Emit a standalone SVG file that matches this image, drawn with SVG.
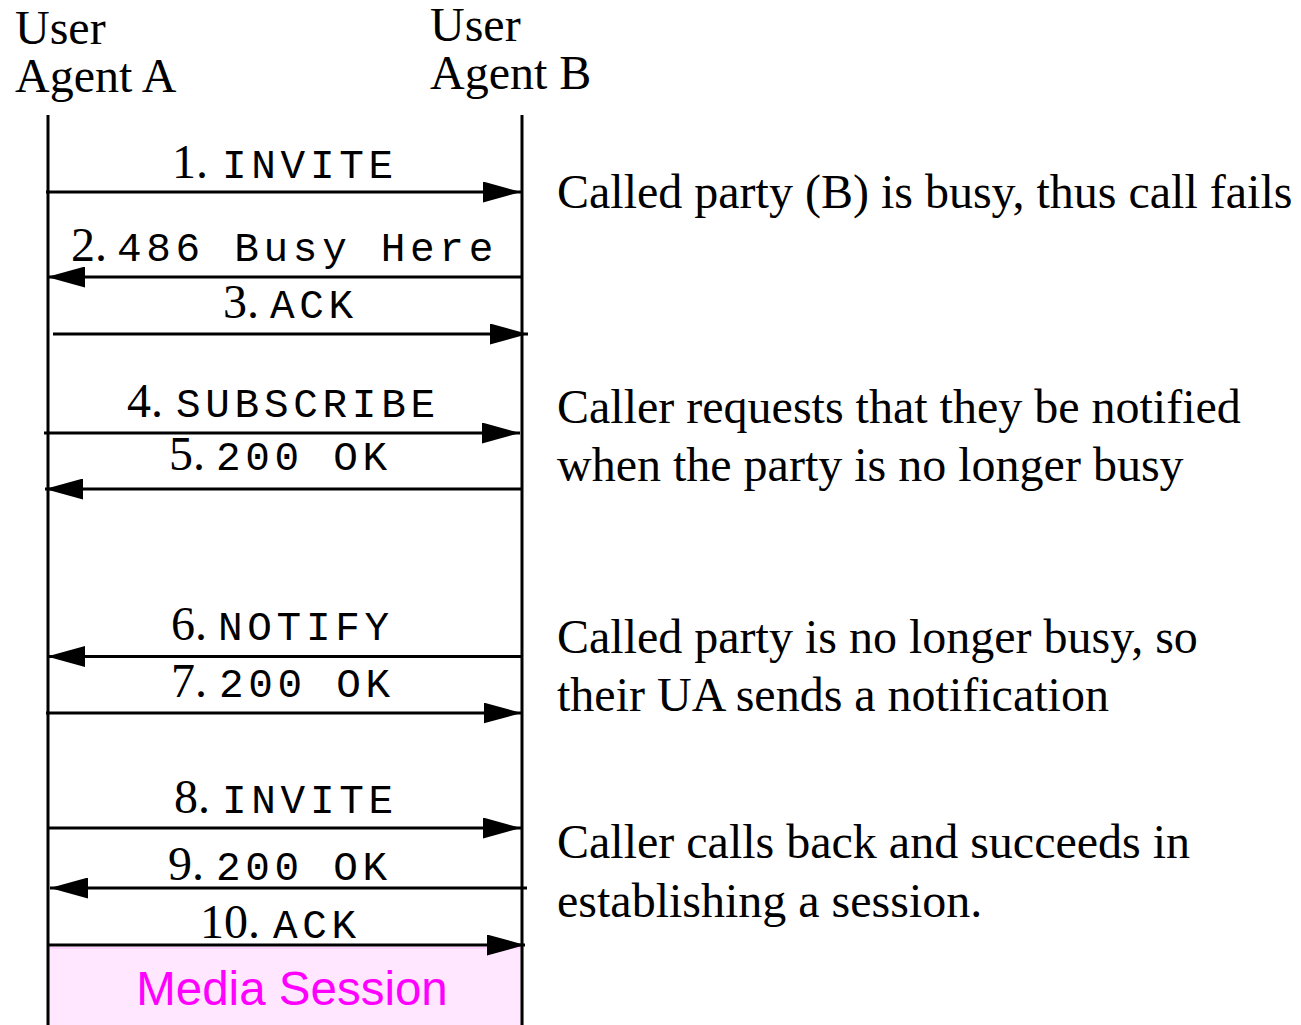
<svg xmlns="http://www.w3.org/2000/svg" width="1301" height="1025" viewBox="0 0 1301 1025">
<style>
.serif{font-family:"Liberation Serif","Times New Roman",serif;font-size:48px;fill:#000}
.mono{font-family:"Liberation Mono","Courier New",monospace;font-size:41px;letter-spacing:4.7px;fill:#000}
.life{stroke:#000;stroke-width:3;fill:none}
.msg{stroke:#000;stroke-width:3;fill:none;marker-end:url(#ah)}
.media{font-family:"Liberation Sans",Arial,sans-serif;font-size:47.5px;fill:#ff00ff}
</style>
<defs>
<marker id="ah" viewBox="0 0 38 21" refX="38" refY="10.5" markerWidth="38" markerHeight="21" markerUnits="userSpaceOnUse" orient="auto">
<path d="M0,0 L38,10.5 L0,21 Z" fill="#000"/>
</marker>
</defs>
<rect width="1301" height="1025" fill="#fff"/>

<g id="media-session">
<rect x="49" y="948" width="474" height="78" fill="#ffe8ff" stroke="#ffd0ff" stroke-width="2"/>
<text class="media" x="292" y="1005" text-anchor="middle">Media Session</text>
</g>

<g id="ua-a">
<text class="serif" x="15" y="44">User</text>
<text class="serif" x="15" y="92">Agent A</text>
<line class="life" x1="48" y1="115" x2="48" y2="1025"/>
</g>
<g id="ua-b">
<text class="serif" x="430" y="41">User</text>
<text class="serif" x="430" y="89">Agent B</text>
<line class="life" x1="522" y1="115" x2="522" y2="1025"/>
</g>

<g id="connectors">
<line class="msg" x1="46" y1="192" x2="521" y2="192"/>
<line class="msg" x1="522" y1="277" x2="47" y2="277"/>
<line class="msg" x1="53" y1="334" x2="528" y2="334"/>
<line class="msg" x1="44" y1="433" x2="520" y2="433"/>
<line class="msg" x1="522" y1="489" x2="45" y2="489"/>
<line class="msg" x1="522" y1="656.5" x2="47" y2="656.5"/>
<line class="msg" x1="46" y1="713" x2="521.5" y2="713"/>
<line class="msg" x1="48" y1="828" x2="521" y2="828"/>
<line class="msg" x1="527" y1="888" x2="50" y2="888"/>
<line class="msg" x1="48" y1="945" x2="525" y2="945"/>
</g>

<g id="labels">
<text class="serif" x="172" y="178">1.</text><text class="mono" x="222" y="178">INVITE</text>
<text class="serif" x="71" y="261">2.</text><text class="mono" x="117" y="261">486 Busy Here</text>
<text class="serif" x="223" y="318">3.</text><text class="mono" x="270" y="318">ACK</text>
<text class="serif" x="127" y="417">4.</text><text class="mono" x="176" y="417">SUBSCRIBE</text>
<text class="serif" x="169" y="470">5.</text><text class="mono" x="216" y="470">200 OK</text>
<text class="serif" x="171" y="640">6.</text><text class="mono" x="218" y="640">NOTIFY</text>
<text class="serif" x="171" y="697">7.</text><text class="mono" x="219" y="697">200 OK</text>
<text class="serif" x="174" y="813">8.</text><text class="mono" x="222" y="813">INVITE</text>
<text class="serif" x="168" y="880">9.</text><text class="mono" x="216" y="880">200 OK</text>
<text class="serif" x="200" y="938">10.</text><text class="mono" x="273" y="938">ACK</text>
</g>

<g id="notes">
<text class="serif" x="557" y="208">Called party (B) is busy, thus call fails</text>
<text class="serif" x="557" y="423">Caller requests that they be notified</text>
<text class="serif" x="557" y="481">when the party is no longer busy</text>
<text class="serif" x="557" y="653">Called party is no longer busy, so</text>
<text class="serif" x="557" y="711">their UA sends a notification</text>
<text class="serif" x="557" y="858">Caller calls back and succeeds in</text>
<text class="serif" x="557" y="917">establishing a session.</text>
</g>
</svg>
